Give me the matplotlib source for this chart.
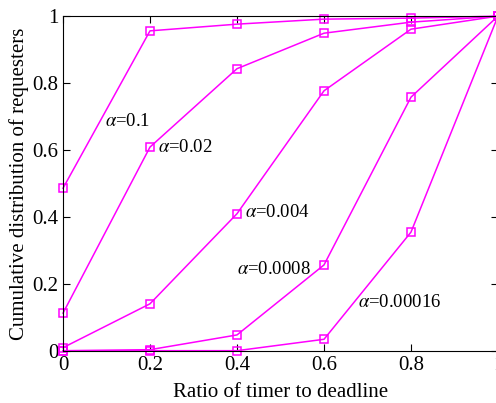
import matplotlib
matplotlib.use('Agg')
import matplotlib.pyplot as plt

plt.rcParams['font.family'] = 'Liberation Serif'
plt.rcParams['mathtext.fontset'] = 'stix'

##### data
ratio = [0, 0.2, 0.4, 0.6, 0.8, 1.0]
cdf_01 = [0.486, 0.956, 0.976, 0.991, 0.994, 1.0]
cdf_002 = [0.113, 0.609, 0.843, 0.949, 0.982, 1.0]
cdf_0004 = [0.010, 0.141, 0.410, 0.777, 0.961, 1.0]
cdf_00008 = [0.001, 0.004, 0.048, 0.257, 0.758, 1.0]
cdf_000016 = [0.0, 0.001, 0.001, 0.035, 0.355, 1.0]

labels = [r'$\alpha$=0.1', r'$\alpha$=0.02', r'$\alpha$=0.004',
          r'$\alpha$=0.0008', r'$\alpha$=0.00016']
label_x = [0.097, 0.218, 0.418, 0.40, 0.678]
label_y = [0.684, 0.609, 0.415, 0.242, 0.146]

fig = plt.figure(figsize=(4.96, 4.03), dpi=100)
ax = fig.add_axes([0.127, 0.129, 0.877, 0.831])

for cdf in [cdf_01, cdf_002, cdf_0004, cdf_00008, cdf_000016]:
    ax.plot(ratio, cdf, color='#ff00ff', lw=1.1, marker='s', ms=6,
            mfc='none', mec='#ff00ff', mew=1.1, clip_on=False)

for lab, lx, ly in zip(labels, label_x, label_y):
    ax.text(lx, ly, lab, fontsize=13.5, va='center', ha='left')

ax.set_xlim(0, 1)
ax.set_ylim(0, 1)
ax.set_xticks([0, 0.2, 0.4, 0.6, 0.8, 1])
ax.set_xticklabels(['0', '0.2', '0.4', '0.6', '0.8', '1'])
ax.set_yticks([0, 0.2, 0.4, 0.6, 0.8, 1])
ax.set_yticklabels(['0', '0.2', '0.4', '0.6', '0.8', '1'])
ax.tick_params(direction='in', top=True, right=True, labelsize=15, length=5, width=0.8)
ax.set_xlabel('Ratio of timer to deadline', fontsize=15, labelpad=6)
ax.set_ylabel('Cumulative distribution of requesters', fontsize=15, labelpad=2)
for s in ax.spines.values():
    s.set_linewidth(0.8)

fig.savefig('out.png', dpi=100)
